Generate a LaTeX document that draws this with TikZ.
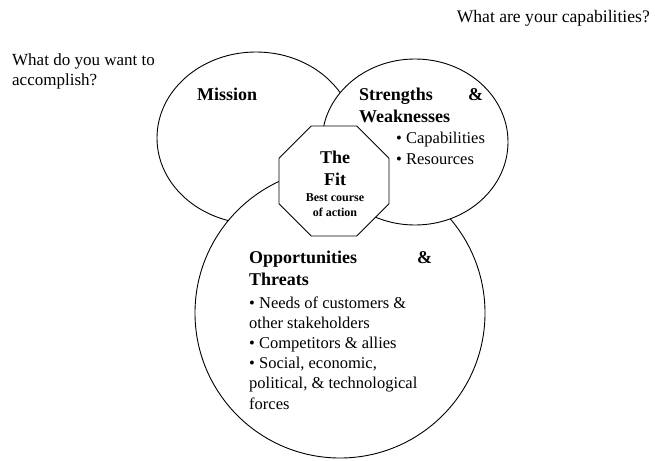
\documentclass[tikz,border=0pt]{standalone}
\usepackage{fontspec}
\setmainfont{Liberation Serif}
\usetikzlibrary{shapes.geometric}
\tikzset{
  lobe/.style={draw=black, fill=white, line width=0.9pt, ellipse, inner sep=0pt},
  body/.style={font=\fontsize{16.5}{20.2}\selectfont, inner sep=0pt, anchor=base west, align=left},
  head/.style={font=\bfseries\fontsize{18}{21.5}\selectfont, inner sep=0pt, anchor=base west, align=left},
  small/.style={font=\bfseries\fontsize{12}{14.5}\selectfont, inner sep=0pt, anchor=base, align=center},
  octbox/.style={regular polygon, regular polygon sides=8, minimum size=119pt, draw=black, fill=white, line width=0.9pt, inner sep=0pt},
}
\begin{document}
\begin{tikzpicture}[x=1pt,y=-1pt]
\useasboundingbox (0,0) rectangle (655,460);
\fill[white] (0,0) rectangle (655,460);
% lobes
\node[lobe, minimum width=198pt, minimum height=172pt] (mission) at (256,138) {};
\node[lobe, minimum width=290pt, minimum height=290pt] (opp) at (340,313) {};
\node[lobe, minimum width=186pt, minimum height=166pt] (sw) at (415,142) {};
\node[octbox] (fit) at (334,181) {};
% texts
\node[body, font=\fontsize{17}{19.5}\selectfont] (qleft) at (12,85) {What do you want to\\accomplish?};
\node[body, font=\fontsize{17.6}{20}\selectfont, anchor=base east] (qright) at (650,23) {What are your capabilities?};
\node[head] (missiont) at (197,100) {Mission};
\node[head] (swt) at (359,122) {\hbox to 124pt{Strengths\hfill\&}\\Weaknesses};
\node[body] (swl) at (396,164) {• Capabilities\\• Resources};
\node[head, anchor=base, align=center] (fitt) at (335,185) {The\\Fit};
\node[small] (fits) at (335,216) {Best course\\of action};
\node[head] (oppt) at (249,285) {\hbox to 183pt{Opportunities\hfill\&}\\Threats};
\node[body] (oppl) at (249,409) {• Needs of customers \&\\other stakeholders\\• Competitors \& allies\\• Social, economic,\\political, \& technological\\forces};
\end{tikzpicture}
\end{document}
